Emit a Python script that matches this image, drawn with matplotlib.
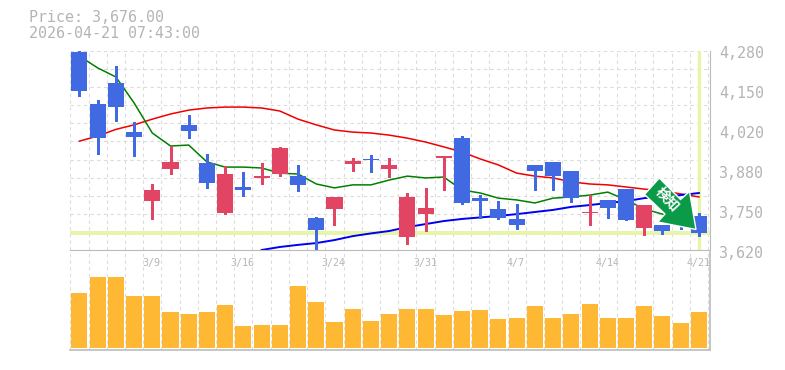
import numpy as np
import matplotlib
matplotlib.use('Agg')
import matplotlib.pyplot as plt
from matplotlib.patches import Polygon

plt.rcParams['font.family'] = ['DejaVu Sans Mono', 'Noto Sans CJK JP']

opens = [4277, 4104, 4174, 4011, 3782, 3889, 4035, 3909, 3743, 3829, 3859, 3872, 3865, 3726, 3756, 3905, 3922, 3889,
         3663, 3739, 3925, 3991, 3792, 3756, 3723, 3902, 3912, 3882, 3743, 3786, 3822, 3693, 3703, 3719, 3733]
closes = [4148, 3992, 4094, 3995, 3819, 3912, 4015, 3842, 3872, 3819, 3865, 3958, 3836, 3686, 3796, 3915, 3918, 3902,
          3796, 3759, 3932, 3776, 3782, 3726, 3703, 3882, 3865, 3792, 3746, 3759, 3719, 3769, 3683, 3700, 3676]
highs = [4283, 4117, 4230, 4045, 3839, 3965, 4068, 3938, 3899, 3879, 3909, 3962, 3902, 3729, 3796, 3925, 3935, 3925,
         3809, 3826, 3932, 3998, 3802, 3782, 3772, 3902, 3912, 3882, 3802, 3786, 3822, 3769, 3703, 3719, 3743]
lows = [4132, 3939, 4049, 3933, 3724, 3873, 3992, 3826, 3739, 3799, 3839, 3865, 3816, 3617, 3703, 3882, 3879, 3862,
        3640, 3683, 3819, 3773, 3726, 3723, 3690, 3819, 3819, 3779, 3703, 3726, 3719, 3670, 3673, 3690, 3666]
volumes = [55, 71, 71, 52, 52, 36, 34, 36, 43, 22, 23, 23, 62, 46, 26, 39, 27, 34,
           39, 39, 33, 37, 38, 29, 30, 42, 30, 34, 44, 30, 30, 42, 32, 25, 36]
ma_short = [4263, 4224, 4194, 4108, 4008, 3965, 3968, 3912, 3895, 3895, 3892, 3875, 3872, 3839, 3826, 3836, 3836, 3852,
            3865, 3859, 3862, 3819, 3809, 3792, 3786, 3776, 3792, 3796, 3802, 3812, 3786, 3756, 3739, 3716, 3699]
ma_mid = [3981, 3998, 4020, 4035, 4054, 4071, 4084, 4091, 4094, 4094, 4091, 4081, 4054, 4035, 4018, 4011, 4008, 4001,
          3991, 3978, 3962, 3945, 3922, 3902, 3875, 3865, 3859, 3846, 3839, 3836, 3829, 3822, 3816, 3806, 3796]
ma_long = [np.nan] * 10 + [3620, 3630, 3637, 3643, 3653, 3666, 3675, 3683, 3696, 3706, 3716, 3723, 3728, 3733, 3739,
                           3746, 3753, 3763, 3769, 3776, 3782, 3792, 3797, 3802, 3809]
price_ticks = [4280, 4148, 4016, 3884, 3752, 3620]
price_labels = ['4,280', '4,150', '4,020', '3,880', '3,750', '3,620']
date_ticks = [4, 9, 14, 19, 24, 29, 34]
date_labels = ['3/9', '3/16', '3/24', '3/31', '4/7', '4/14', '4/21']
last_price = 3676

W, H = 785, 370
GREY = '#b4b4b4'
LINE = '#bbbbbb'
UP = '#e24464'
DOWN = '#4169e1'


def box(x0, y0, x1, y1):
    return [x0 / W, 1 - y1 / H, (x1 - x0) / W, (y1 - y0) / H]


def main():
    x = np.arange(len(opens))
    fig = plt.figure(figsize=(W / 100, H / 100), dpi=100)
    ax = fig.add_axes(box(70.3, 51, 710, 250))
    vol = fig.add_axes(box(70.3, 252, 710, 350))
    vol.patch.set_visible(False)
    for a in (ax, vol):
        a.set_xlim(-0.5, 34.61)
        a.set_xticks(np.arange(0, 36) - 0.5)
        a.tick_params(length=0, labelbottom=False, labelleft=False)
        a.grid(True, axis='x', color='#dcdcdc', lw=0.8, ls=(0, (3, 3)))
        a.set_axisbelow(True)
        for s in a.spines.values():
            s.set_visible(False)
        for s in ('bottom', 'right'):
            a.spines[s].set_visible(True)
            a.spines[s].set_color(LINE)

    # price pane
    ax.set_ylim(3620, 4280)
    ax.set_yticks(np.arange(3620, 4281, 60))
    ax.grid(True, axis='y', color='#dcdcdc', lw=0.8, ls=(0, (3, 3)))
    ax.axhline(last_price, color='#e6f5a8', lw=2.8, zorder=1.5)
    ax.axvline(x[-1] + 0.03, ymin=0.005, color='#e6f5a8', lw=2.4, zorder=1.5)

    ax.plot(x, ma_mid, color='#f00000', lw=1.1, zorder=2)
    ax.plot(x, ma_short, color='#008000', lw=1.1, zorder=2)
    ax.plot(x, ma_long, color='#0000f0', lw=1.4, zorder=2)

    colors = [UP if c > o else DOWN for o, c in zip(opens, closes)]
    ax.vlines(x, lows, highs, colors=colors, lw=1.0, zorder=3, antialiased=False)
    tops = np.maximum(opens, closes)
    bots = np.minimum(opens, closes)
    ax.bar(x, tops - bots, 0.88, bots, color=colors, zorder=3, antialiased=False)

    for p, lab in zip(price_ticks, price_labels):
        y_px = 250 - (p - 3620) / 660 * 199
        fig.text(719 / W, 1 - (y_px + 3) / H, lab, color=GREY, fontsize=10.8, va='center', ha='left')
    for d, lab in zip(date_ticks, date_labels):
        ax.annotate(lab, (d, 3620), xytext=(-0.5, -5.5), textcoords='offset points', color=GREY, fontsize=7.2,
                    ha='center', va='top', annotation_clip=False, zorder=5)

    # volume pane
    vol.set_ylim(-2, 96)
    vol.set_yticks([])
    vol.bar(x, volumes, 0.88, color='#ffb833', zorder=3, antialiased=False)
    vol.spines['bottom'].set_linewidth(1.2)
    vol.spines['right'].set_linewidth(1.2)

    # title
    fig.text(29 / W, 1 - 18 / H, 'Price: 3,676.00', color=GREY, fontsize=10.8, va='center')
    fig.text(29 / W, 1 - 33 / H, '2026-04-21 07:43:00', color=GREY, fontsize=10.8, va='center')

    # arrow badge
    arrow = [(659.3, 178), (644.5, 194.5), (665, 214), (657.7, 222), (696, 229.5), (689.5, 191.5), (680.5, 199.5)]
    fig.add_artist(Polygon([(a / W, 1 - b / H) for a, b in arrow], closed=True, transform=fig.transFigure,
                           facecolor='#0a9a48', edgecolor='white', lw=1.0, zorder=10))
    fig.text(667 / W, 1 - 199 / H, '検知', color='white', fontsize=10, fontweight='bold', rotation=-47,
             rotation_mode='anchor', ha='center', va='center', zorder=11,
             family=['Noto Sans CJK JP', 'DejaVu Sans'])

    fig.savefig('out.png', dpi=100, facecolor='white')


if __name__ == '__main__':
    main()
